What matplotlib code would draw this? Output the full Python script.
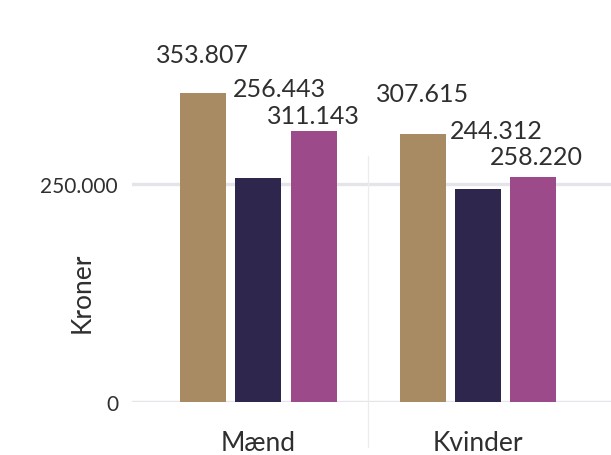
import numpy as np
import matplotlib
matplotlib.use("Agg")
import matplotlib.pyplot as plt

plt.rcParams['font.family'] = ['Lato', 'DejaVu Sans']

# data
groups = ["Mænd", "Kvinder"]
serie_1 = [353807, 307615]
serie_2 = [256443, 244312]
serie_3 = [311143, 258220]
y_ticks = [0, 250000]
y_ticklabels = ["0", "250.000"]
y_label = "Kroner"

colors = ["#a88b63", "#2e264d", "#9c4a8a"]
text_color = "#2f2f2f"

# label nudges in pixels (dx, dy to baseline), per series and group
label_offsets = [
    [(-1, 31), (0, 33)],
    [(21, 82), (18, 51)],
    [(0, 8), (3, 13)],
]

fig = plt.figure(figsize=(6.11, 4.56), dpi=100)
ax = fig.add_axes([132 / 611, 53 / 456, 1 - 132 / 611, 403 / 456])

x = np.arange(len(groups))
width = 0.21
step = 0.252
series = [serie_1, serie_2, serie_3]

for i, vals in enumerate(series):
    pos = x + (i - 1) * step
    ax.bar(pos, vals, width=width, color=colors[i], zorder=3)
    for j, v in enumerate(vals):
        dx, dy = label_offsets[i][j]
        ax.annotate(f"{v:,}".replace(",", "."), xy=(pos[j], v),
                    xytext=(dx, dy), textcoords="offset pixels",
                    ha="center", va="baseline", fontsize=18,
                    color=text_color, annotation_clip=False)

ax.set_xlim(-0.576, 1.606)
ax.set_ylim(0, 462000)

ax.set_yticks(y_ticks)
ax.set_yticklabels(y_ticklabels)
ax.set_xticks(x)
ax.set_xticklabels(groups)
ax.tick_params(axis="y", length=0, pad=10, labelsize=15, labelcolor=text_color)
ax.tick_params(axis="x", length=0, pad=20, labelsize=19, labelcolor=text_color)

ax.grid(axis="y", color="#e4e4ea", linewidth=2.4, zorder=1)
ax.grid(axis="x", visible=False)
ax.set_axisbelow(True)

ax.axvline(0.5, ymin=-0.112, ymax=0.61, color="#ececec", linewidth=0.9,
           clip_on=False, zorder=1)

for s in ax.spines.values():
    s.set_visible(False)

ax.set_ylabel(y_label, fontsize=19, color=text_color)
ax.yaxis.set_label_coords(-0.077, 0.273)

fig.savefig("out.png", dpi=100)
